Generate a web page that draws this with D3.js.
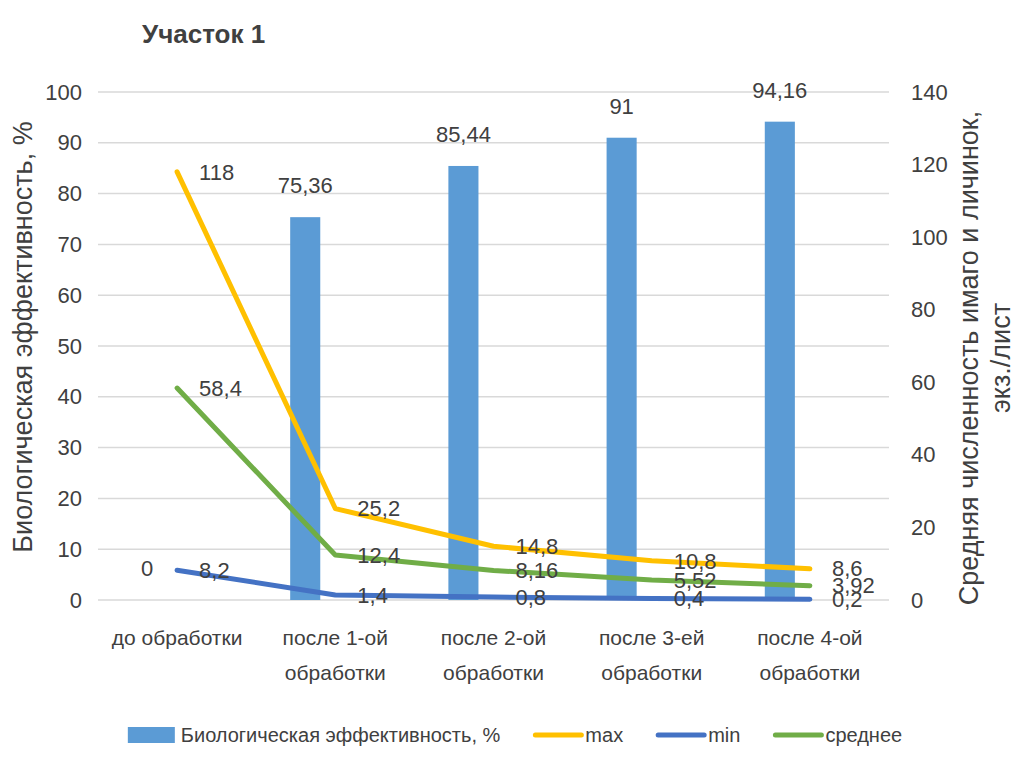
<!DOCTYPE html>
<html>
<head>
<meta charset="utf-8">
<script src="https://cdn.jsdelivr.net/npm/d3@7"></script>
<style>
  body { margin: 0; background: #fff; }
  text { font-family: "Liberation Sans Narrow", "Arial Narrow", "Liberation Sans", sans-serif; fill: #404040; }
</style>
</head>
<body>
<div id="chart"></div>
<script>
// data
const categories = ['до обработки', 'после 1-ой обработки', 'после 2-ой обработки', 'после 3-ей обработки', 'после 4-ой обработки'];
const catLines = [['до обработки'], ['после 1-ой', 'обработки'], ['после 2-ой', 'обработки'], ['после 3-ей', 'обработки'], ['после 4-ой', 'обработки']];
const efficiency = [0, 75.36, 85.44, 91, 94.16];
const maxVals = [118, 25.2, 14.8, 10.8, 8.6];
const minVals = [8.2, 1.4, 0.8, 0.4, 0.2];
const meanVals = [58.4, 12.4, 8.16, 5.52, 3.92];
const leftTicks = [0, 10, 20, 30, 40, 50, 60, 70, 80, 90, 100];
const rightTicks = [0, 20, 40, 60, 80, 100, 120, 140];

const width = 1024, height = 768;
const plotL = 98, plotR = 889, plotT = 92, plotB = 600;
const fmt = v => String(v).replace('.', ',');

const svg = d3.select('#chart').append('svg')
  .attr('width', width)
  .attr('height', height);

const x = d3.scaleBand().domain(categories).range([plotL, plotR]);
// Excel places the bar as the first of a 3-slot cluster
const xSub = d3.scaleBand().domain([0, 1, 2]).range([0, x.bandwidth()]).paddingOuter(1.13);
const yL = d3.scaleLinear().domain([0, 100]).range([plotB, plotT]);
const yR = d3.scaleLinear().domain([0, 140]).range([plotB, plotT]);

// gridlines
svg.append('g').selectAll('line')
  .data(leftTicks)
  .enter().append('line')
  .attr('x1', plotL).attr('x2', plotR)
  .attr('y1', d => yL(d)).attr('y2', d => yL(d))
  .attr('stroke', '#d9d9d9')
  .attr('stroke-width', 1.5);

// left axis
const axL = svg.append('g')
  .attr('transform', `translate(${plotL - 16},0)`)
  .call(d3.axisLeft(yL).tickValues(leftTicks).tickSize(0).tickPadding(0));
axL.select('.domain').remove();
axL.selectAll('text').style('font-size', '22px').attr('fill', '#404040');

// right axis
const axR = svg.append('g')
  .attr('transform', `translate(${plotR + 22},0)`)
  .call(d3.axisRight(yR).tickValues(rightTicks).tickSize(0).tickPadding(0));
axR.select('.domain').remove();
axR.selectAll('text').style('font-size', '22px').attr('fill', '#404040');

// bars
svg.append('g').selectAll('rect')
  .data(efficiency)
  .enter().append('rect')
  .attr('x', (d, i) => x(categories[i]) + xSub(0))
  .attr('y', d => yL(d))
  .attr('width', xSub.bandwidth())
  .attr('height', d => yL(0) - yL(d))
  .attr('fill', '#5b9bd5');

svg.append('g').selectAll('text')
  .data(efficiency)
  .enter().append('text')
  .attr('x', (d, i) => x(categories[i]) + xSub(0) + xSub.bandwidth() / 2)
  .attr('y', d => yL(d) - 24)
  .attr('text-anchor', 'middle')
  .style('font-size', '22px')
  .text(d => fmt(d));

// lines
const series = [
  { name: 'max', values: maxVals, color: '#ffc000' },
  { name: 'min', values: minVals, color: '#4472c4' },
  { name: 'среднее', values: meanVals, color: '#70ad47' }
];
const cx = i => x(categories[i]) + x.bandwidth() / 2;
const line = d3.line()
  .x((d, i) => cx(i))
  .y(d => yR(d));

series.forEach(s => {
  svg.append('path')
    .datum(s.values)
    .attr('d', line)
    .attr('fill', 'none')
    .attr('stroke', s.color)
    .attr('stroke-width', 5)
    .attr('stroke-linecap', 'round')
    .attr('stroke-linejoin', 'round');
});

series.forEach(s => {
  svg.append('g').selectAll('text')
    .data(s.values)
    .enter().append('text')
    .attr('x', (d, i) => cx(i) + 22)
    .attr('y', d => yR(d))
    .attr('dy', '0.35em')
    .style('font-size', '22px')
    .text(d => fmt(d));
});

// category labels
const cat = svg.append('g').selectAll('text')
  .data(catLines)
  .enter().append('text')
  .attr('x', (d, i) => cx(i))
  .attr('y', 645)
  .attr('text-anchor', 'middle')
  .style('font-size', '21px');
cat.selectAll('tspan')
  .data(d => d)
  .enter().append('tspan')
  .attr('x', function () { return this.parentNode.getAttribute('x'); })
  .attr('dy', (d, i) => i === 0 ? 0 : 35)
  .text(d => d);

// axis titles
svg.append('text')
  .attr('transform', `translate(32,337) rotate(-90)`)
  .attr('text-anchor', 'middle')
  .style('font-size', '27px')
  .text('Биологическая эффективность, %');

const rt = svg.append('text')
  .attr('transform', `translate(978,358) rotate(-90)`)
  .attr('text-anchor', 'middle')
  .style('font-size', '27px');
rt.append('tspan').attr('x', 0).attr('dy', 0).text('Средняя численность имаго и личинок,');
rt.append('tspan').attr('x', 0).attr('dy', 32).text('экз./лист');

// title
svg.append('text')
  .attr('x', 142)
  .attr('y', 43)
  .style('font-size', '26px')
  .style('font-weight', 'bold')
  .attr('fill', '#000')
  .text('Участок 1');

// legend
const legendItems = [
  { name: 'Биологическая эффективность, %', color: '#5b9bd5', type: 'rect' },
  { name: 'max', color: '#ffc000', type: 'line' },
  { name: 'min', color: '#4472c4', type: 'line' },
  { name: 'среднее', color: '#70ad47', type: 'line' }
];
const legend = svg.append('g');
let lx = 0;
const ly = 735;
legendItems.forEach(item => {
  if (item.type === 'rect') {
    legend.append('rect')
      .attr('x', lx).attr('y', ly - 8)
      .attr('width', 47).attr('height', 16)
      .attr('fill', item.color);
  } else {
    legend.append('line')
      .attr('x1', lx + 3).attr('x2', lx + 49)
      .attr('y1', ly).attr('y2', ly)
      .attr('stroke', item.color)
      .attr('stroke-width', 5)
      .attr('stroke-linecap', 'round');
  }
  const t = legend.append('text')
    .attr('x', lx + 53)
    .attr('y', ly)
    .attr('dy', '0.35em')
    .style('font-size', '20px')
    .text(item.name);
  lx += 53 + t.node().getComputedTextLength() + 32;
});
const legendW = lx - 32;
legend.attr('transform', `translate(${515 - legendW / 2},0)`);
</script>
</body>
</html>
